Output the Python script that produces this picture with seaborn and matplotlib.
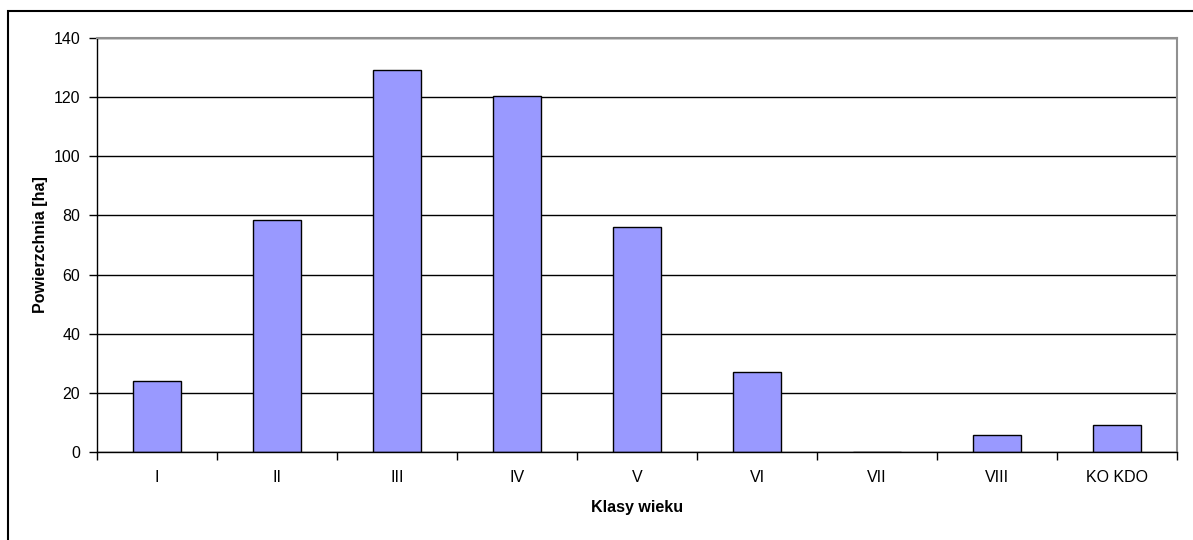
import matplotlib
matplotlib.use("Agg")
from matplotlib import pyplot as plt
from matplotlib.patches import Rectangle
import seaborn as sns
import pandas as pd

# age classes and area [ha]
klasy = ['I', 'II', 'III', 'IV', 'V', 'VI', 'VII', 'VIII', 'KO KDO']
powierzchnia = [24.0, 78.3, 129.1, 120.4, 76.2, 27.0, 0.0, 5.6, 9.1]
y_ticks = [0, 20, 40, 60, 80, 100, 120, 140]

df = pd.DataFrame({'klasa': klasy, 'pow': powierzchnia})

sns.set_style("white")
plt.rcParams['font.family'] = ['Liberation Sans', 'DejaVu Sans']
plt.rcParams['text.color'] = 'black'
plt.rcParams['axes.labelcolor'] = 'black'
plt.rcParams['xtick.color'] = 'black'
plt.rcParams['ytick.color'] = 'black'

fig = plt.figure(figsize=(11.93, 5.40), dpi=100)
ax = fig.add_axes([97 / 1193, 1 - 452 / 540, 1080 / 1193, 414 / 540])

# gridlines behind bars
ax.set_axisbelow(True)
ax.yaxis.grid(True, color='black', linewidth=1)

sns.barplot(data=df, x='klasa', y='pow', color='#9999FF', saturation=1,
            width=0.4, edgecolor='black', linewidth=1, ax=ax)

ax.set_ylim(0, 140)
ax.set_xlim(-0.5, len(klasy) - 0.5)
ax.set_yticks(y_ticks)
ax.set_yticklabels([str(v) for v in y_ticks], fontsize=11.5)

# ticks between categories, labels at centers
ax.set_xticks([i - 0.5 for i in range(len(klasy) + 1)])
ax.set_xticklabels([])
ax.set_xticks(range(len(klasy)), minor=True)
ax.set_xticklabels(klasy, minor=True, fontsize=11.5)
ax.tick_params(axis='x', which='major', length=6, width=1, color='black', direction='out', bottom=True)
ax.tick_params(axis='x', which='minor', length=0, pad=13)
ax.tick_params(axis='y', length=6, width=1, color='black', direction='out', left=True, pad=6)

ax.set_xlabel('Klasy wieku', fontsize=11.5, fontweight='bold', labelpad=11)
ax.set_ylabel('Powierzchnia [ha]', fontsize=11.5, fontweight='bold', labelpad=4)

for side in ['left', 'bottom']:
    ax.spines[side].set_color('black')
    ax.spines[side].set_linewidth(1)
for side in ['top', 'right']:
    ax.spines[side].set_visible(True)
    ax.spines[side].set_color('#909090')
    ax.spines[side].set_linewidth(1.5)

# outer chart frame
fig.patches.append(Rectangle((8 / 1193, -0.1), 1.2, 1 - 11 / 540 + 0.1,
                             transform=fig.transFigure, fill=False,
                             edgecolor='black', linewidth=1.5))

fig.savefig('out.png', dpi=100)
